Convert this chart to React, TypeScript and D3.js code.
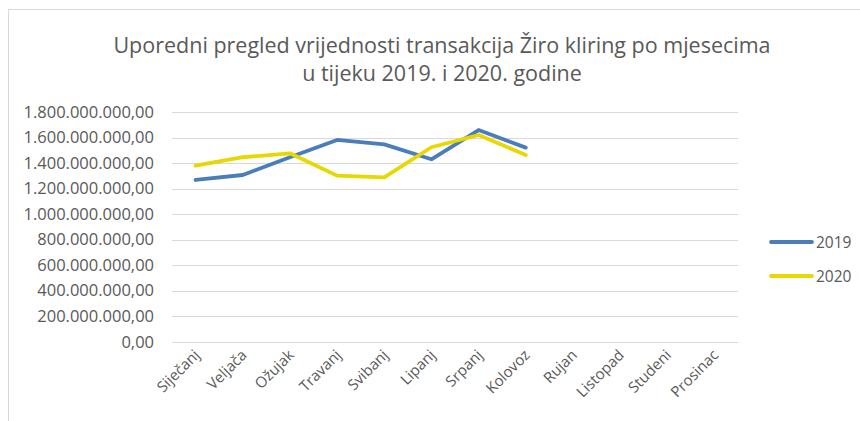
import React, { useEffect, useRef } from "react";
import * as d3 from "d3";

const months = [
  "Siječanj", "Veljača", "Ožujak", "Travanj", "Svibanj", "Lipanj",
  "Srpanj", "Kolovoz", "Rujan", "Listopad", "Studeni", "Prosinac",
];
const values2019 = [1268e6, 1307e6, 1446e6, 1581e6, 1547e6, 1430e6, 1659e6, 1521e6];
const values2020 = [1380e6, 1446e6, 1477e6, 1302e6, 1289e6, 1524e6, 1620e6, 1464e6];
const yTicks = [0, 2e8, 4e8, 6e8, 8e8, 1e9, 1.2e9, 1.4e9, 1.6e9, 1.8e9];
const titleLines = [
  "Uporedni pregled vrijednosti transakcija Žiro kliring po mjesecima",
  "u tijeku 2019. i 2020. godine",
];
const seriesNames = ["2019", "2020"];

const App: React.FC = () => {
  const ref = useRef<SVGSVGElement>(null);

  useEffect(() => {
    const width = 860;
    const height = 421;
    const font = "'Open Sans', sans-serif";
    const textColor = "#595959";
    const colors = ["#4a7ebb", "#e6d800"];

    const svg = d3.select(ref.current);
    svg.selectAll("*").remove();
    svg.attr("width", width).attr("height", height);

    // okvir
    svg.append("rect")
      .attr("x", 8.5).attr("y", 9.5)
      .attr("width", 900).attr("height", 500)
      .attr("fill", "white").attr("stroke", "#d9d9d9");

    // naslov
    svg.selectAll("text.title")
      .data(titleLines)
      .join("text")
      .attr("class", "title")
      .attr("x", 442)
      .attr("y", (d, i) => 53 + i * 28)
      .attr("text-anchor", "middle")
      .attr("font-family", font)
      .attr("font-size", 21.5)
      .attr("fill", textColor)
      .text(d => d);

    const x = d3.scaleBand().domain(months).range([172, 738]);
    const y = d3.scaleLinear().domain([0, 1.8e9]).range([342, 112]);

    const fmt = (v: number) => {
      const s = d3.format(",.2f")(v);
      return s.replace(/,/g, "#").replace(".", ",").replace(/#/g, ".");
    };

    // mreža
    svg.append("g")
      .selectAll("line")
      .data(yTicks)
      .join("line")
      .attr("x1", 172).attr("x2", 738)
      .attr("y1", d => Math.round(y(d)) + 0.5)
      .attr("y2", d => Math.round(y(d)) + 0.5)
      .attr("stroke", "#d9d9d9");

    svg.append("g")
      .selectAll("text")
      .data(yTicks)
      .join("text")
      .attr("x", 154)
      .attr("y", d => y(d) + 5.5)
      .attr("text-anchor", "end")
      .attr("font-family", font)
      .attr("font-size", 16.5)
      .attr("fill", textColor)
      .text(d => fmt(d));

    // oznake mjeseci
    svg.append("g")
      .selectAll("text")
      .data(months)
      .join("text")
      .attr("transform", d => `translate(${x(d)! + x.bandwidth() / 2 + 5},${356}) rotate(-45)`)
      .attr("text-anchor", "end")
      .attr("font-family", font)
      .attr("font-size", 15)
      .attr("fill", textColor)
      .text(d => d);

    const line = d3.line<number>()
      .x((d, i) => x(months[i])! + x.bandwidth() / 2)
      .y(d => y(d));

    [values2019, values2020].forEach((vals, i) => {
      svg.append("path")
        .datum(vals)
        .attr("fill", "none")
        .attr("stroke", colors[i])
        .attr("stroke-width", 3.8)
        .attr("stroke-linejoin", "round")
        .attr("stroke-linecap", "round")
        .attr("d", line);
    });

    // legenda
    const legend = svg.append("g");
    seriesNames.forEach((name, i) => {
      const ly = 242 + i * 34;
      legend.append("line")
        .attr("x1", 771).attr("x2", 812)
        .attr("y1", ly).attr("y2", ly)
        .attr("stroke", colors[i])
        .attr("stroke-width", 3.8)
        .attr("stroke-linecap", "round");
      legend.append("text")
        .attr("x", 816).attr("y", ly + 6)
        .attr("font-family", font)
        .attr("font-size", 15.5)
        .attr("fill", textColor)
        .text(name);
    });
  }, []);

  return (
    <div style={{ position: "absolute", left: 0, top: 0 }}>
      <svg ref={ref} style={{ display: "block" }} />
    </div>
  );
};

export default App;
